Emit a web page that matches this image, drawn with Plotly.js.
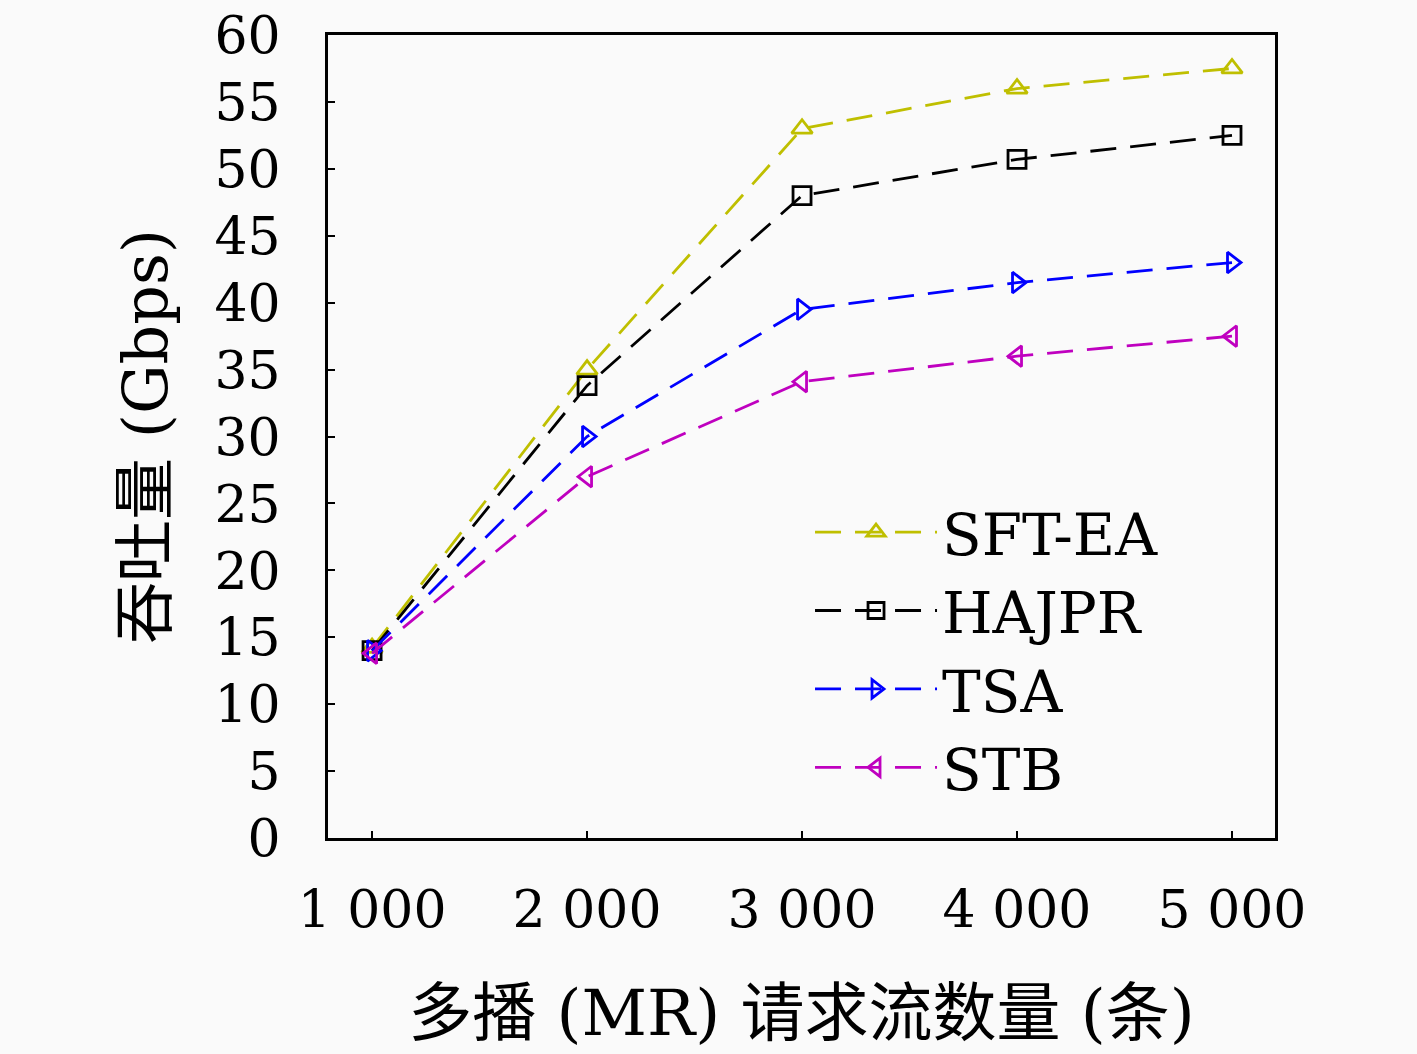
<!DOCTYPE html>
<html><head><meta charset="utf-8">
<script src="https://cdn.plot.ly/plotly-3.0.1.min.js"></script>
<style>html,body{margin:0;padding:0;background:#fafafa;}</style>
</head><body>
<div id="chart" style="width:1417px;height:1054px;"></div>
<script>
const xValues = [1000, 2000, 3000, 4000, 5000];
const xTickText = ['1 000', '2 000', '3 000', '4 000', '5 000'];
const yTicks = [0,5,10,15,20,25,30,35,40,45,50,55,60];
const sftEA = [14.2, 35, 53, 56, 57.5];
const hajpr = [14, 33.8, 48, 50.7, 52.5];
const tsa = [14, 30, 39.5, 41.5, 43];
const stb = [13.8, 27, 34.1, 36, 37.5];
const names = ['SFT-EA', 'HAJPR', 'TSA', 'STB'];

const colors = ['#bfbf00', '#000000', '#0000ff', '#bf00bf'];
const symbols = ['triangle-up-open', 'square-open', 'triangle-right-open', 'triangle-left-open'];
const series = [sftEA, hajpr, tsa, stb];

const traces = series.map((s, i) => ({
  x: xValues, y: s, name: names[i], type: 'scatter', mode: 'lines+markers',
  line: {color: colors[i], width: 2.8, dash: '26px,14px'},
  marker: {symbol: symbols[i], size: 18, color: colors[i], line: {color: colors[i], width: 2.8}}
}));

const serif = '"DejaVu Serif", "Noto Sans CJK SC", serif';
const layout = {
  width: 1417, height: 1054,
  paper_bgcolor: '#fafafa', plot_bgcolor: '#fafafa',
  margin: {l: 328, r: 142, t: 35, b: 216},
  font: {family: serif, color: '#000', size: 52},
  showlegend: true,
  legend: {
    x: 0.509, y: 0.436, xanchor: 'left', yanchor: 'top',
    bgcolor: 'rgba(0,0,0,0)', borderwidth: 0,
    font: {family: serif, size: 58, color: '#000'},
    itemwidth: 122, tracegroupgap: 0
  },
  xaxis: {
    range: [795, 5200], tickmode: 'array', tickvals: xValues, ticktext: xTickText,
    ticks: 'inside', ticklen: 7, tickwidth: 2, tickcolor: '#000',
    showline: true, linewidth: 3, linecolor: '#000', mirror: true,
    showgrid: false, zeroline: false, ticklabelstandoff: 24,
    tickfont: {family: serif, size: 52},
    title: {text: '多播 (MR) 请求流数量 (条)', font: {family: serif, size: 64}, standoff: 52}
  },
  yaxis: {
    range: [0, 60], tickmode: 'array', tickvals: yTicks,
    ticks: 'inside', ticklen: 7, tickwidth: 2, tickcolor: '#000',
    showline: true, linewidth: 3, linecolor: '#000', mirror: true,
    showgrid: false, zeroline: false, ticklabelstandoff: 34,
    tickfont: {family: serif, size: 52},
    title: {text: '吞吐量 (Gbps)', font: {family: serif, size: 62}, standoff: 27}
  }
};
Plotly.newPlot('chart', traces, layout, {displayModeBar: false, staticPlot: true});
</script>
</body></html>
